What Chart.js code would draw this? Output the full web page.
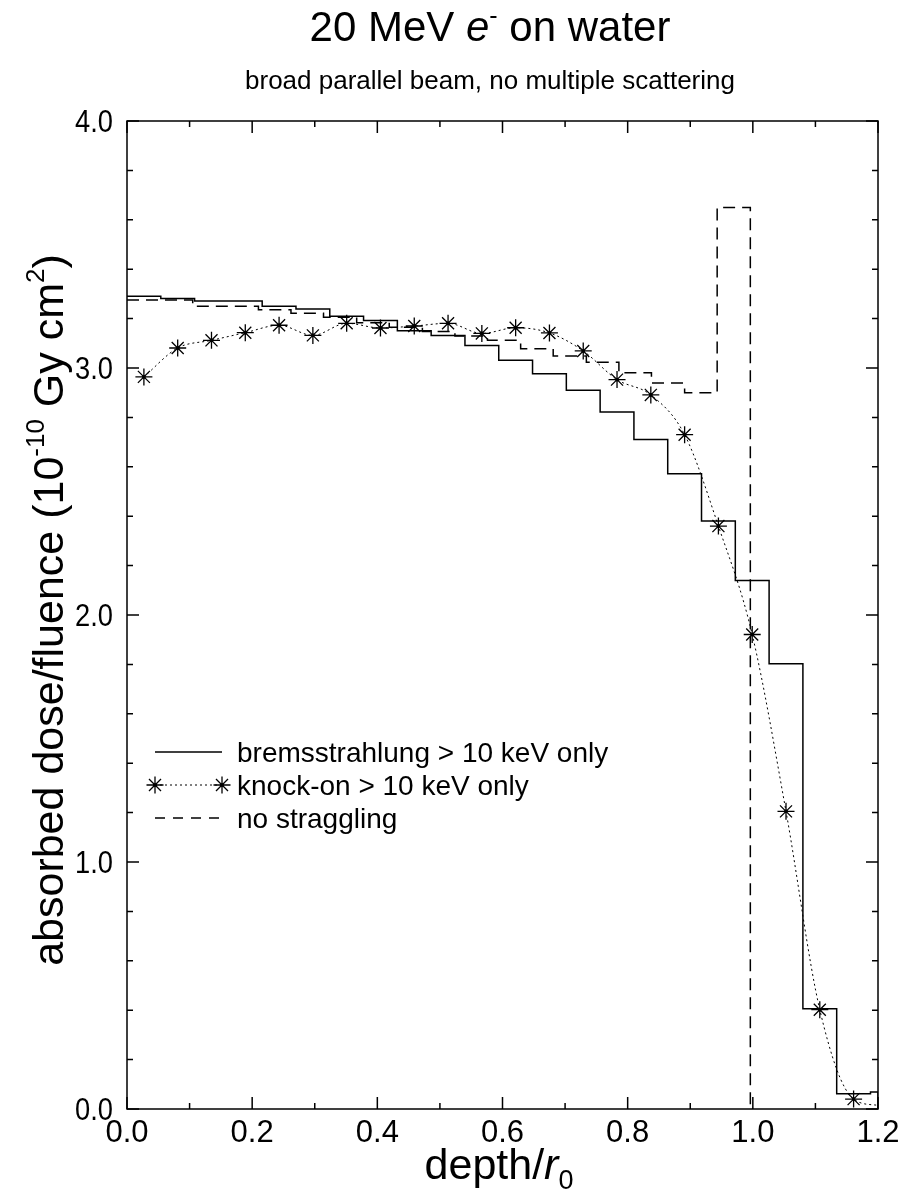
<!DOCTYPE html>
<html>
<head>
<meta charset="utf-8">
<script src="https://cdn.jsdelivr.net/npm/chart.js@4.4.1/dist/chart.umd.min.js"></script>
<style>
  html, body { margin: 0; padding: 0; background: #ffffff; }
  #wrap { width: 900px; height: 1193px; position: relative; }
</style>
</head>
<body>
<div id="wrap"><canvas id="dose" width="900" height="1193"></canvas></div>
<script>
// Depth-dose for 20 MeV electrons on water (depth in units of r0, dose/fluence in 1e-10 Gy cm^2)

// bremsstrahlung > 10 keV only: histogram bin edges and bin contents
const bremsEdges = [0.000, 0.054, 0.108, 0.162, 0.216, 0.270, 0.324, 0.378, 0.432, 0.486, 0.540, 0.594,
                    0.648, 0.702, 0.756, 0.810, 0.864, 0.918, 0.972, 1.026, 1.080, 1.134, 1.188, 1.200];
const bremsDose  = [3.290, 3.281, 3.271, 3.271, 3.250, 3.239, 3.210, 3.192, 3.151, 3.132, 3.091, 3.031,
                    2.977, 2.910, 2.822, 2.711, 2.572, 2.381, 2.140, 1.803, 0.406, 0.062, 0.069];

// knock-on > 10 keV only: values at bin centres
const knockDepth = [0.027, 0.081, 0.135, 0.189, 0.243, 0.297, 0.351, 0.405, 0.459, 0.513, 0.567,
                    0.621, 0.675, 0.729, 0.783, 0.837, 0.891, 0.945, 0.999, 1.053, 1.107, 1.161];
const knockDose  = [2.964, 3.081, 3.112, 3.143, 3.173, 3.132, 3.181, 3.162, 3.170, 3.181, 3.140,
                    3.163, 3.142, 3.069, 2.953, 2.891, 2.730, 2.360, 1.921, 1.205, 0.402, 0.040];
// end of the smoothed knock-on curve at the right edge
const knockCurveEnd = { depth: 1.200, dose: 0.015 };

// no straggling: histogram bin edges and bin contents
const noStragEdges = [0.000, 0.052, 0.105, 0.157, 0.210, 0.262, 0.314, 0.367, 0.419, 0.472,
                      0.524, 0.576, 0.629, 0.681, 0.734, 0.786, 0.838, 0.891, 0.943, 0.996];
const noStragDose  = [3.275, 3.275, 3.250, 3.250, 3.236, 3.222, 3.205, 3.183, 3.165, 3.148,
                      3.130, 3.112, 3.078, 3.049, 3.023, 2.981, 2.939, 2.900, 3.650];

// axis tick labels
const xTickLabels = ['0.0', '0.2', '0.4', '0.6', '0.8', '1.0', '1.2'];
const yTickLabels = ['0.0', '1.0', '2.0', '3.0', '4.0'];

// legend entries
const legendLabels = ['bremsstrahlung > 10 keV only', 'knock-on > 10 keV only', 'no straggling'];

// ---------------------------------------------------------------------------
// histogram outline: value of bin i starts at edge i, closes to zero after the last bin
function stepPoints(edges, values) {
  return edges.map((x, i) => ({ x: x, y: i < values.length ? values[i] : 0 }));
}

const knockPoints = knockDepth.map((x, i) => ({ x: x, y: knockDose[i] }));
const knockCurve = knockPoints.concat([{ x: knockCurveEnd.depth, y: knockCurveEnd.dose }]);

const FONT = '"Liberation Sans", Arial, Helvetica, sans-serif';

function fontOf(size, italic) {
  return (italic ? 'italic ' : '') + size + 'px ' + FONT;
}
function runWidth(ctx, parts) {
  let w = 0;
  for (const p of parts) { ctx.font = fontOf(p.size, p.italic); w += ctx.measureText(p.text).width; }
  return w;
}
// draws a run of text pieces (with optional super/subscript shifts)
function drawRun(ctx, parts, x, y, opt) {
  const align = opt.align || 'left';
  const sx = opt.sx === undefined ? 1 : opt.sx;
  ctx.save();
  ctx.translate(x, y);
  if (opt.rotate) { ctx.rotate(-Math.PI / 2); ctx.scale(1, sx); }
  else { ctx.scale(sx, 1); }
  const w = runWidth(ctx, parts);
  let cx = align === 'center' ? -w / 2 : (align === 'right' ? -w : 0);
  ctx.fillStyle = '#000';
  ctx.textBaseline = 'alphabetic';
  ctx.textAlign = 'left';
  for (const p of parts) {
    ctx.font = fontOf(p.size, p.italic);
    ctx.fillText(p.text, cx, -(p.rise || 0));
    cx += ctx.measureText(p.text).width;
  }
  ctx.restore();
}

function drawStar(ctx, x, y, r) {
  const d = r * Math.SQRT1_2;
  ctx.beginPath();
  ctx.moveTo(x - r, y); ctx.lineTo(x + r, y);
  ctx.moveTo(x, y - r); ctx.lineTo(x, y + r);
  ctx.moveTo(x - d, y - d); ctx.lineTo(x + d, y + d);
  ctx.moveTo(x - d, y + d); ctx.lineTo(x + d, y - d);
  ctx.stroke();
  ctx.beginPath();
  ctx.arc(x, y, 1.8, 0, Math.PI * 2);
  ctx.fill();
}

const framePlugin = {
  id: 'frame',
  afterDraw(chart) {
    const ctx = chart.ctx;
    const xs = chart.scales.x, ys = chart.scales.y;
    const a = chart.chartArea;
    ctx.save();
    ctx.strokeStyle = '#000';
    ctx.fillStyle = '#000';
    ctx.lineWidth = 1.5;
    ctx.setLineDash([]);
    ctx.strokeRect(a.left, a.top, a.right - a.left, a.bottom - a.top);

    // x ticks (inward, bottom and top)
    const xMajor = xTickLabels.map(Number);
    ctx.beginPath();
    xMajor.forEach((v, i) => {
      const px = xs.getPixelForValue(v);
      ctx.moveTo(px, a.bottom); ctx.lineTo(px, a.bottom - 12);
      ctx.moveTo(px, a.top); ctx.lineTo(px, a.top + 12);
      if (i < xMajor.length - 1) {
        const pm = xs.getPixelForValue((v + xMajor[i + 1]) / 2);
        ctx.moveTo(pm, a.bottom); ctx.lineTo(pm, a.bottom - 6);
        ctx.moveTo(pm, a.top); ctx.lineTo(pm, a.top + 6);
      }
    });
    // y ticks (inward, left and right)
    const yMajor = yTickLabels.map(Number);
    yMajor.forEach((v, i) => {
      const py = ys.getPixelForValue(v);
      ctx.moveTo(a.left, py); ctx.lineTo(a.left + 12, py);
      ctx.moveTo(a.right, py); ctx.lineTo(a.right - 12, py);
      if (i < yMajor.length - 1) {
        const step = (yMajor[i + 1] - v) / 5;
        for (let k = 1; k < 5; k++) {
          const pm = ys.getPixelForValue(v + k * step);
          ctx.moveTo(a.left, pm); ctx.lineTo(a.left + 6, pm);
          ctx.moveTo(a.right, pm); ctx.lineTo(a.right - 6, pm);
        }
      }
    });
    ctx.stroke();

    // tick labels
    xTickLabels.forEach((t) => {
      drawRun(ctx, [{ text: t, size: 31 }], xs.getPixelForValue(Number(t)), a.bottom + 33, { align: 'center' });
    });
    yTickLabels.forEach((t) => {
      drawRun(ctx, [{ text: t, size: 31 }], a.left - 14, ys.getPixelForValue(Number(t)) + 11, { align: 'right', sx: 0.88 });
    });

    // titles
    drawRun(ctx, [
      { text: '20 MeV ', size: 42 },
      { text: 'e', size: 42, italic: true },
      { text: '-', size: 25, rise: 17 },
      { text: ' on water', size: 42 }
    ], 490, 41, { align: 'center' });
    drawRun(ctx, [{ text: 'broad parallel beam, no multiple scattering', size: 26 }], 490, 89, { align: 'center' });

    // axis titles
    drawRun(ctx, [
      { text: 'depth/', size: 43 },
      { text: 'r', size: 43, italic: true },
      { text: '0', size: 27, rise: -10 }
    ], 499, 1179, { align: 'center' });
    drawRun(ctx, [
      { text: 'absorbed dose/fluence (10', size: 43 },
      { text: '-10', size: 26, rise: 19 },
      { text: ' Gy cm', size: 43 },
      { text: '2', size: 26, rise: 19 },
      { text: ')', size: 43 }
    ], 63, 610, { align: 'center', rotate: true, sx: 1 });

    // legend
    const rows = [752, 785, 818];
    const x0 = 155, x1 = 222, tx = 237;
    ctx.lineWidth = 1.5;
    ctx.setLineDash([]);
    ctx.beginPath(); ctx.moveTo(x0, rows[0]); ctx.lineTo(x1, rows[0]); ctx.stroke();
    ctx.lineWidth = 1;
    ctx.setLineDash([2, 3]);
    ctx.beginPath(); ctx.moveTo(x0, rows[1]); ctx.lineTo(x1, rows[1]); ctx.stroke();
    ctx.setLineDash([]);
    ctx.lineWidth = 1.3;
    drawStar(ctx, x0, rows[1], 8.5);
    drawStar(ctx, x1, rows[1], 8.5);
    ctx.lineWidth = 1.5;
    ctx.setLineDash([10, 8]);
    ctx.beginPath(); ctx.moveTo(x0, rows[2]); ctx.lineTo(x1 + 4, rows[2]); ctx.stroke();
    ctx.setLineDash([]);
    legendLabels.forEach((t, i) => {
      drawRun(ctx, [{ text: t, size: 28 }], tx, rows[i] + 10, { align: 'left' });
    });
    ctx.restore();
  }
};

new Chart(document.getElementById('dose'), {
  type: 'scatter',
  data: {
    datasets: [
      {
        label: legendLabels[0],
        data: stepPoints(bremsEdges, bremsDose),
        showLine: true,
        stepped: 'before',
        borderColor: '#000',
        borderWidth: 1.5,
        pointRadius: 0,
        fill: false
      },
      {
        label: legendLabels[1],
        data: knockCurve,
        showLine: true,
        cubicInterpolationMode: 'monotone',
        borderColor: '#000',
        borderWidth: 1,
        borderDash: [2, 3],
        pointStyle: 'star',
        pointRadius: (c) => (c.dataIndex < knockDepth.length ? 8.5 : 0),
        pointBorderWidth: 1.3,
        pointBorderColor: '#000',
        pointBackgroundColor: '#000',
        fill: false
      },
      {
        label: 'centre dots',
        data: knockPoints,
        showLine: false,
        pointStyle: 'circle',
        pointRadius: 1.8,
        pointBorderWidth: 0,
        pointBackgroundColor: '#000'
      },
      {
        label: legendLabels[2],
        data: stepPoints(noStragEdges, noStragDose),
        showLine: true,
        stepped: 'before',
        borderColor: '#000',
        borderWidth: 1.5,
        borderDash: [12, 7],
        pointRadius: 0,
        fill: false
      }
    ]
  },
  options: {
    responsive: false,
    animation: false,
    devicePixelRatio: 1,
    layout: { padding: { left: 127, right: 22, top: 121, bottom: 84 } },
    scales: {
      x: { type: 'linear', min: 0, max: 1.2, display: false },
      y: { type: 'linear', min: 0, max: 4.0, display: false }
    },
    plugins: {
      legend: { display: false },
      tooltip: { enabled: false }
    },
    elements: { line: { tension: 0 } }
  },
  plugins: [framePlugin]
});
</script>
</body>
</html>
